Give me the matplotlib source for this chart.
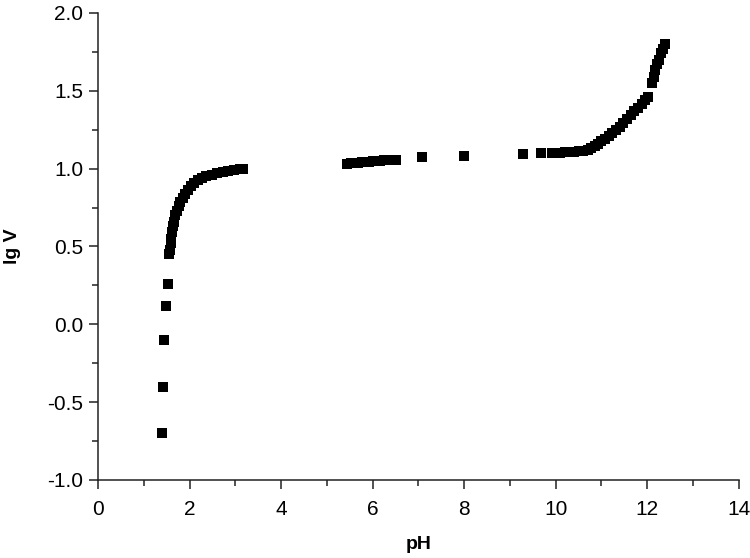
import matplotlib
matplotlib.use("Agg")
import matplotlib.pyplot as plt
from matplotlib.ticker import MultipleLocator, FormatStrFormatter

plt.rcParams['font.family'] = ['Liberation Sans', 'DejaVu Sans']

# --- data ---
ph_low = [1.39, 1.41, 1.44, 1.48, 1.52, 1.56]
lgv_low = [-0.70, -0.40, -0.10, 0.12, 0.26, 0.45]

ph_bend = [1.58, 1.59, 1.60, 1.62, 1.64, 1.66, 1.69, 1.72, 1.76, 1.80, 1.85,
           1.90, 1.96, 2.03, 2.10, 2.18, 2.27, 2.37, 2.48, 2.60, 2.72, 2.85,
           2.98, 3.10, 3.17]
lgv_bend = [0.48, 0.52, 0.55, 0.59, 0.63, 0.66, 0.70, 0.73, 0.76, 0.785, 0.81,
            0.835, 0.86, 0.885, 0.905, 0.925, 0.94, 0.952, 0.962, 0.972, 0.98,
            0.987, 0.992, 0.996, 1.0]

ph_mid = [5.45, 5.53, 5.61, 5.69, 5.77, 5.85, 5.93, 6.01, 6.09, 6.17, 6.25,
          6.33, 6.41, 6.50, 7.07, 7.99, 9.28, 9.69]
lgv_mid = [1.032, 1.034, 1.036, 1.038, 1.040, 1.042, 1.044, 1.046, 1.048,
           1.050, 1.052, 1.054, 1.056, 1.058, 1.075, 1.080, 1.094, 1.100]

ph_high = [9.91, 10.0, 10.1, 10.2, 10.3, 10.4, 10.5, 10.6, 10.7, 10.78, 10.85,
           10.93, 11.0, 11.08, 11.16, 11.24, 11.32, 11.40, 11.48, 11.56, 11.64,
           11.72, 11.80, 11.88, 11.95, 12.01, 12.10, 12.14, 12.18, 12.22,
           12.26, 12.30, 12.34, 12.38]
lgv_high = [1.100, 1.101, 1.102, 1.104, 1.106, 1.108, 1.110, 1.113, 1.118,
            1.13, 1.145, 1.16, 1.175, 1.19, 1.21, 1.23, 1.25, 1.27, 1.295,
            1.32, 1.345, 1.37, 1.39, 1.415, 1.44, 1.46, 1.55, 1.59, 1.63,
            1.67, 1.70, 1.74, 1.77, 1.80]

ph = ph_low + ph_bend + ph_mid + ph_high
lgv = lgv_low + lgv_bend + lgv_mid + lgv_high

fig = plt.figure(figsize=(7.5, 5.58), dpi=100)
ax = fig.add_axes([0.1307, 0.1398, 0.985 - 0.1307, 0.9769 - 0.1398])

ax.plot(ph, lgv, linestyle='none', marker='s', markersize=7.2,
        color='black', markeredgewidth=0)

ax.set_xlim(0, 14)
ax.set_ylim(-1.0, 2.0)
ax.xaxis.set_major_locator(MultipleLocator(2))
ax.xaxis.set_minor_locator(MultipleLocator(1))
ax.yaxis.set_major_locator(MultipleLocator(0.5))
ax.yaxis.set_minor_locator(MultipleLocator(0.25))
ax.yaxis.set_major_formatter(FormatStrFormatter('%.1f'))

for s in ['top', 'right']:
    ax.spines[s].set_visible(False)
for s in ['left', 'bottom']:
    ax.spines[s].set_linewidth(1.1)
    ax.spines[s].set_color('#222222')

ax.tick_params(which='major', direction='out', length=6.5, width=1.1,
               labelsize=15, colors='#222222', labelcolor='black')
ax.tick_params(axis='x', which='major', pad=8)
ax.tick_params(axis='y', which='major', pad=4)
ax.tick_params(which='minor', direction='out', length=4, width=1.1,
               colors='#222222')

ax.set_xlabel('pH', fontsize=14, fontweight='bold', labelpad=12)
ax.set_ylabel('lg V', fontsize=14, fontweight='bold', labelpad=19)

fig.savefig('out.png', dpi=100)
